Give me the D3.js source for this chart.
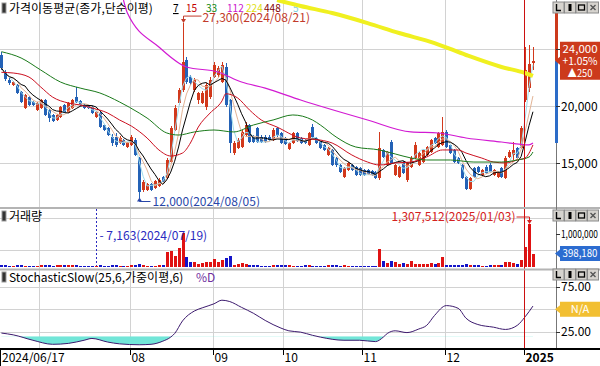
<!DOCTYPE html>
<meta charset="UTF-8">
<style>
body { margin: 0; background: #fff; }
svg text { font-family: "Noto Sans CJK KR", "DejaVu Sans", sans-serif; font-size: 12px; }
</style>
<body>
<script src="https://d3js.org/d3.v7.min.js"></script>
<script>
// daily candles, 2024/06/17 .. 2025/01/06 (index based)
var opens = [24500,23010,22310,21870,21870,21250,19850,20820,20380,19680,
  19850,20550,19680,19240,18800,19060,20110,19500,19850,20820,
  20470,20110,20030,19940,19060,19410,18360,18100,17310,17310,
  16780,17040,16430,16610,17040,15470,12660,12660,13180,12830,
  13010,13800,13710,15110,17920,20290,21430,24060,22570,21430,
  20550,20290,19940,20820,22570,22750,22130,23450,20550,15900,
  16340,16430,17480,18360,17310,18100,17310,17310,17310,17040,
  18100,17660,17220,16250,16780,17660,17220,17040,16610,18180,
  17220,16870,16610,15730,16170,15470,14850,13800,14410,14850,
  14680,14590,14410,14410,14320,14240,13710,16170,14850,16870,
  13970,13800,15110,13540,14680,15470,14850,15110,15730,15990,
  17220,16430,16610,17750,16610,16170,15470,14850,13800,12750,
  14590,14680,13970,14680,14850,13970,13800,14590,13710,15550,
  15730,16340,16340,20550,21610,23800];
var highs = [24760,23180,22480,22220,21960,21340,21080,20900,20470,20380,
  20640,20640,19760,19320,19320,20030,20200,20380,20640,21690,
  20550,20200,20110,20030,19590,19500,18450,18180,17570,17660,
  17400,17130,16870,17480,17220,15550,13540,13270,13270,13540,
  13710,13890,15470,18270,20110,21610,27300,24320,22750,22480,
  21250,21340,22040,22570,23890,23530,23890,23800,20640,16960,
  17220,17920,18620,18450,17480,18180,17480,17480,17480,18100,
  18180,17750,17310,16870,17750,17750,17310,17130,17750,18450,
  17310,16960,16690,16430,16250,15550,14940,14680,15110,14940,
  14760,14680,14500,14500,14410,14320,17750,16250,16080,17040,
  14940,14760,15200,15110,15640,16870,15990,16250,16520,17130,
  17310,17750,19060,17920,16690,16250,15550,14940,13890,13800,
  14680,14760,14500,14850,15030,14500,14320,14680,15640,16170,
  16870,16430,18270,25200,25380,25200];
var lows = [23180,22220,21870,21780,21080,20290,19760,20030,20030,19590,
  19760,19150,18620,18620,18710,18970,19410,19410,19760,20290,
  20030,19760,19760,19320,18970,18100,17830,17400,16520,16430,
  16690,16520,16340,16520,15640,12000,12480,12570,12570,12750,
  12920,13270,13620,15030,17830,20110,21250,21960,21870,21250,
  20200,20200,19680,20640,22480,22570,22040,19940,15900,15730,
  16250,16340,17310,16780,16780,16780,16780,16780,16960,16960,
  17310,16690,16610,16170,16690,16870,16690,16690,16520,17220,
  16690,16250,16080,15640,14760,14680,14150,13710,14320,14320,
  13890,13890,13890,13970,13890,13620,13540,15470,14760,14940,
  13890,13710,14060,13360,14590,15380,14760,15030,15640,15900,
  16690,16340,16520,16340,15820,15030,14940,13620,12660,12660,
  13710,14150,13890,14060,14150,13890,13710,13710,13620,15470,
  15290,15380,16250,20380,21250,23180];
var closes = [23360,22400,22040,22130,21170,20380,20990,20110,20110,20290,
  20550,19240,18970,18710,19240,19940,19500,20290,20550,20380,
  20110,19850,19850,19410,19500,18180,17920,17480,16780,16610,
  17220,16610,16780,17310,15730,12480,13360,13180,12660,13450,
  13540,13360,15290,18100,19850,21430,23890,22130,22040,22310,
  21170,21170,21870,22310,23620,23360,23620,20110,16780,16780,
  17040,17750,18360,16870,16870,16870,16870,16870,17040,17920,
  17480,16780,16690,16780,17660,16960,16780,16780,17660,17310,
  16780,16340,16170,16340,14850,14850,14240,14590,15030,14410,
  13970,13970,13970,14060,13970,13710,16340,15550,15990,15030,
  14850,14680,14150,15030,15470,16610,15900,16170,16430,17040,
  16780,17660,17750,16430,15900,15110,15030,13710,12750,13710,
  13800,14240,14410,14150,14240,14410,14240,13800,15470,15990,
  16170,15470,18100,23180,23750,24000];
var volumes = [45000,38000,30000,28000,32000,35000,30000,28000,25000,30000,
  40000,60000,35000,30000,45000,60000,40000,35000,38000,50000,
  30000,25000,20000,22000,7163,35000,30000,28000,40000,35000,
  30000,25000,22000,35000,40000,70000,45000,30000,28000,30000,
  40000,35000,455000,486000,320000,560000,1020000,300000,150000,150000,
  80000,100000,150000,150000,220000,150000,200000,250000,330000,50000,
  80000,100000,80000,50000,40000,35000,30000,30000,25000,50000,
  45000,40000,35000,40000,30000,25000,25000,45000,50000,30000,
  30000,28000,25000,35000,40000,35000,30000,40000,30000,25000,
  25000,22000,20000,20000,22000,30000,530000,160000,100000,160000,
  130000,80000,100000,80000,180000,90000,80000,70000,90000,100000,
  80000,100000,280000,50000,45000,40000,35000,60000,70000,50000,
  40000,35000,30000,30000,35000,40000,40000,35000,150000,130000,
  110000,80000,200000,610000,1307512,398180];

// moving averages: [day index, price]
var ma15Pts = [[0,22980],[3,22920],[7,22570],[10,21690],[13,20810],[17,20290],[20,20110],[23,19850],
  [27,19410],[30,18800],[33,18270],[37,17220],[40,16170],[43,15640],[46,15900],[48,16780],[50,18180],
  [53,19410],[56,20460],[57,21100],[60,20730],[63,19680],[66,18800],[70,18180],[76,17220],[81,17040],
  [84,16780],[89,15730],[93,15110],[96,14850],[100,15030],[104,15110],[108,15550],[112,16170],
  [116,16170],[118,15900],[122,15460],[125,15110],[128,15030],[131,15290],[133,15460],[135,16610]];
var ma33Pts = [[0,24790],[5,24240],[10,23180],[15,22130],[20,21600],[25,21170],[30,20380],[35,19410],
  [37,18970],[42,17660],[45,17480],[49,17750],[54,17920],[59,17750],[64,18360],[69,18800],[74,19240],
  [79,18800],[81,18360],[85,17310],[90,16430],[96,16170],[100,15820],[104,15470],[108,15290],
  [114,15290],[120,15110],[127,15110],[131,15290],[134,15550],[135,15990]];
var ma112Pts = [[31,29320],[32,28180],[40,25200],[47,23450],[55,23010],[61,22130],[67,21600],[76,20550],
  [93,18800],[104,17750],[111,17660],[118,17220],[127,16870],[134,16610],[135,16780]];
var ma224Pts = [[70,29320],[76,28800],[84,28180],[93,27300],[101,26430],[110,25550],[118,24500],
  [127,23450],[133,22920],[135,22660]];

// StochasticSlow %D: [day index, value]
var stochPts = [[0,23.5],[3,21.5],[8,15.5],[13,11],[17,12],[21,15.5],[23,17.5],[27,13.5],[30,11.5],
  [35,10.5],[38,11],[41,14.5],[43,19],[44,23],[46,37],[49,48],[51,51.5],[54,56],[56,60],[58,58.5],
  [61,52],[64,45.5],[67,37.5],[71,29],[73,26],[76,24.5],[79,21],[81,19],[87,15.5],[91,15.5],[95,14],
  [97,19],[98,23],[100,26],[103,24],[106,28],[108,32],[110,43],[113,54],[116,51],[118,40],[121,33],
  [125,30],[128,27.5],[131,32],[133,41.5],[135,53.5]];

var gridIdx = [10, 33, 54, 72, 92, 113, 133];
var tickIdx = [0, 33, 54, 72, 92, 113, 133];
var tickLabels = ["2024/06/17", "08", "09", "10", "11", "12", "2025"];
var yearIdx = 133;
var maPeriods = ["7", "15", "33", "112", "224", "448", "5"];
var maColors = ["#000", "#c40000", "#138a13", "#cc16cc", "#e0e010", "#800000", "#7fd0e0"];
var hiDate = "2024/08/21", loDate = "2024/08/05", vHiDate = "2025/01/03", vLoDate = "2024/07/19";
var changePct = "+1.05%", changeAmt = 250;
var axisBarHi = 28200, axisBarLo = 16780;

var N = closes.length;
var W = 600, H = 366, plotR = 556;
var UP = "#d2391c", DOWN = "#2462b6";

var svg = d3.select("body").append("svg").attr("width", W).attr("height", H);
var defs = svg.append("defs");
defs.append("clipPath").attr("id", "cMain").append("rect").attr("x", 0).attr("y", 0).attr("width", plotR).attr("height", 207);

var x = d3.scaleLinear().domain([0, N - 1]).range([1.4, 1.4 + (N - 1) * 3.9375]);
var yP = d3.scaleLinear().domain([15000, 25000]).range([163.3, 49.3]);
var yV = d3.scaleLinear().domain([0, 1000000]).range([266.5, 234]);
var yS = d3.scaleLinear().domain([25, 75]).range([331.7, 286.7]);
var fmt = d3.format(",");

function sma(n) {
  return closes.map(function(c, i) { return [i, d3.mean(closes.slice(Math.max(0, i - n + 1), i + 1))]; });
}

// ---- grid
var grid = svg.append("g").attr("stroke", "#d2d2d2").attr("shape-rendering", "crispEdges");
gridIdx.forEach(function(i) {
  var gx = Math.round(x(i) - 1.5) + 0.5;
  grid.append("line").attr("x1", gx).attr("x2", gx).attr("y1", 0).attr("y2", 349);
});
[15000, 20000, 25000].forEach(function(v) {
  grid.append("line").attr("x1", 0).attr("x2", plotR).attr("y1", Math.round(yP(v)) + 0.5).attr("y2", Math.round(yP(v)) + 0.5);
});
[500000, 1500000].forEach(function(v) {
  grid.append("line").attr("x1", 0).attr("x2", plotR).attr("y1", Math.round(yV(v)) + 0.5).attr("y2", Math.round(yV(v)) + 0.5);
});
[25, 50, 75].forEach(function(v) {
  grid.append("line").attr("x1", 0).attr("x2", plotR).attr("y1", Math.round(yS(v)) + 0.5).attr("y2", Math.round(yS(v)) + 0.5);
});

// ---- main legend
svg.append("rect").attr("x", 2).attr("y", 3).attr("width", 4).attr("height", 10).attr("fill", "#333").attr("stroke", "#999");
svg.append("text").attr("x", 9).attr("y", 13).text("가격이동평균(종가,단순이평)");
var legX = [173, 186, 206, 227, 246, 264, 293];
maPeriods.forEach(function(p, k) {
  svg.append("text").attr("x", legX[k]).attr("y", 12).attr("fill", maColors[k]).style("font-size", "11px")
    .attr("textLength", p.length * 5.6).attr("lengthAdjust", "spacingAndGlyphs")
    .attr("text-decoration", k === 0 ? "underline" : null).text(p);
});

// ---- candles
var gm = svg.append("g").attr("clip-path", "url(#cMain)");
var cand = gm.selectAll("g.c").data(d3.range(N)).join("g").attr("shape-rendering", "crispEdges");
cand.append("line")
  .attr("x1", function(i) { return Math.round(x(i)) + 0.5; })
  .attr("x2", function(i) { return Math.round(x(i)) + 0.5; })
  .attr("y1", function(i) { return yP(highs[i]); })
  .attr("y2", function(i) { return yP(lows[i]); })
  .attr("stroke", function(i) { return closes[i] >= opens[i] ? UP : DOWN; });
cand.append("rect")
  .attr("x", function(i) { return Math.round(x(i)) - 1; })
  .attr("width", 3)
  .attr("y", function(i) { return yP(Math.max(opens[i], closes[i])); })
  .attr("height", function(i) { return Math.max(1, Math.abs(yP(opens[i]) - yP(closes[i]))); })
  .attr("fill", function(i) { return closes[i] >= opens[i] ? UP : DOWN; });

// ---- moving averages
var lineP = d3.line().x(function(d) { return x(d[0]); }).y(function(d) { return yP(d[1]); });
var lineC = d3.line().x(function(d) { return x(d[0]); }).y(function(d) { return yP(d[1]); }).curve(d3.curveMonotoneX);
gm.append("path").attr("d", lineP(sma(3))).attr("fill", "none").attr("stroke", "#9fdcec").attr("stroke-width", 1);
gm.append("path").attr("d", lineP(sma(5))).attr("fill", "none").attr("stroke", "#e2b496").attr("stroke-width", 1);
gm.append("path").attr("d", lineP(sma(7))).attr("fill", "none").attr("stroke", "#000").attr("stroke-width", 1);
gm.append("path").attr("d", lineC(ma15Pts)).attr("fill", "none").attr("stroke", "#cc1020").attr("stroke-width", 1);
gm.append("path").attr("d", lineC(ma33Pts)).attr("fill", "none").attr("stroke", "#1a7a1a").attr("stroke-width", 1);
gm.append("path").attr("d", lineC(ma112Pts)).attr("fill", "none").attr("stroke", "#d21ad2").attr("stroke-width", 1.2);
gm.append("path").attr("d", lineC(ma224Pts)).attr("fill", "none").attr("stroke", "#f0f020").attr("stroke-width", 4);

// ---- high / low markers
var hiI = d3.maxIndex(highs), loI = d3.minIndex(lows);
var hx = Math.round(x(hiI)) + 0.5, hy = yP(highs[hiI]);
svg.append("path").attr("d", "M" + hx + "," + (hy - 2) + "V" + (hy - 7) + "H" + (hx + 18)).attr("fill", "none").attr("stroke", "#c23b2b");
svg.append("path").attr("d", "M" + (hx - 2.5) + "," + (hy - 4) + "L" + (hx + 2.5) + "," + (hy - 4) + "L" + hx + "," + hy + "Z").attr("fill", "#c23b2b");
svg.append("text").attr("x", hx + 19).attr("y", hy - 1).attr("fill", "#c23b2b").text(fmt(highs[hiI]) + "(" + hiDate + ")");
var lx = Math.round(x(loI)) + 0.5, ly = yP(lows[loI]);
svg.append("path").attr("d", "M" + lx + "," + (ly + 2) + "V" + (ly + 4) + "H" + (lx + 11)).attr("fill", "none").attr("stroke", "#2846a8");
svg.append("path").attr("d", "M" + (lx - 2.5) + "," + (ly + 4) + "L" + (lx + 2.5) + "," + (ly + 4) + "L" + lx + "," + ly + "Z").attr("fill", "#2846a8");
svg.append("text").attr("x", lx + 13).attr("y", ly + 8).attr("fill", "#2846a8").text(fmt(lows[loI]) + "(" + loDate + ")");

// ---- volume
svg.append("rect").attr("x", 2).attr("y", 211).attr("width", 4).attr("height", 10).attr("fill", "#333").attr("stroke", "#999");
svg.append("text").attr("x", 9).attr("y", 221).text("거래량");
var gv = svg.append("g").attr("shape-rendering", "crispEdges");
gv.selectAll("rect").data(d3.range(N)).join("rect")
  .attr("x", function(i) { return Math.round(x(i)) - 1; })
  .attr("width", 3)
  .attr("y", function(i) { return yV(volumes[i]); })
  .attr("height", function(i) { return Math.max(1, yV(0) - yV(volumes[i])); })
  .attr("fill", function(i) { return closes[i] >= opens[i] ? "#e01212" : "#1414c8"; });
var vHi = d3.maxIndex(volumes), vLo = d3.minIndex(volumes);
var vhx = Math.round(x(vHi)) + 0.5, vhy = yV(volumes[vHi]);
svg.append("path").attr("d", "M" + (vhx - 13) + "," + (vhy - 7) + "H" + vhx + "V" + (vhy - 2)).attr("fill", "none").attr("stroke", "#d42020");
svg.append("path").attr("d", "M" + (vhx - 2.5) + "," + (vhy - 4) + "L" + (vhx + 2.5) + "," + (vhy - 4) + "L" + vhx + "," + vhy + "Z").attr("fill", "#d42020");
svg.append("text").attr("x", vhx - 14).attr("y", vhy - 3).attr("text-anchor", "end").attr("fill", "#d42020").text(fmt(volumes[vHi]) + "(" + vHiDate + ")");
var vlx = Math.round(x(vLo)) + 0.5;
svg.append("line").attr("x1", vlx).attr("x2", vlx).attr("y1", 209).attr("y2", 266).attr("stroke", "#2a2ac0").attr("stroke-dasharray", "2,2");
svg.append("text").attr("x", vlx + 3).attr("y", 240).attr("fill", "#2a2ac0").text("- " + fmt(volumes[vLo]) + "(" + vLoDate + ")");

// ---- stochastic
svg.append("rect").attr("x", 2).attr("y", 272).attr("width", 4).attr("height", 10).attr("fill", "#333").attr("stroke", "#999");
svg.append("text").attr("x", 9).attr("y", 282).text("StochasticSlow(25,6,가중이평,6)");
svg.append("text").attr("x", 196).attr("y", 282).attr("fill", "#7030a0").text("%D");
defs.append("clipPath").attr("id", "cOver").append("rect").attr("x", 0).attr("y", yS(20)).attr("width", plotR).attr("height", 349 - yS(20));
var areaS = d3.area().x(function(d) { return x(d[0]); }).y0(yS(20)).y1(function(d) { return yS(d[1]); }).curve(d3.curveMonotoneX);
svg.append("path").attr("d", areaS(stochPts)).attr("fill", "#72e6d8").attr("clip-path", "url(#cOver)");
var lineS = d3.line().x(function(d) { return x(d[0]); }).y(function(d) { return yS(d[1]); }).curve(d3.curveMonotoneX);
svg.append("path").attr("d", lineS(stochPts)).attr("fill", "none").attr("stroke", "#3c1a6e").attr("stroke-width", 1);

// ---- year separator
var yx = Math.round(x(yearIdx) - 1.5) + 0.5;
svg.append("line").attr("x1", yx).attr("x2", yx).attr("y1", 0).attr("y2", 352).attr("stroke", "#cc1010");

// ---- panel separators
svg.append("rect").attr("x", 0).attr("y", 207).attr("width", W).attr("height", 2).attr("fill", "#b4b4b4");
svg.append("rect").attr("x", 0).attr("y", 268.5).attr("width", W).attr("height", 2).attr("fill", "#b4b4b4");

// ---- right axis
svg.append("line").attr("x1", plotR + 0.5).attr("x2", plotR + 0.5).attr("y1", 0).attr("y2", 349).attr("stroke", "#777");
var last = closes[N - 1];
svg.append("rect").attr("x", 555).attr("width", 3).attr("y", yP(axisBarHi)).attr("height", yP(last) - yP(axisBarHi)).attr("fill", "#cc3a1c");
svg.append("rect").attr("x", 555).attr("width", 3).attr("y", yP(last)).attr("height", yP(axisBarLo) - yP(last)).attr("fill", "#2c6cc8");
function rTick(y, label, len) {
  svg.append("line").attr("x1", 556).attr("x2", 560).attr("y1", Math.round(y) + 0.5).attr("y2", Math.round(y) + 0.5).attr("stroke", "#333");
  var t = svg.append("text").attr("x", 561).attr("y", y).attr("dy", "0.36em").text(label);
  if (len) t.attr("textLength", len).attr("lengthAdjust", "spacingAndGlyphs").style("font-size", "11px");
}
[25000, 20000, 15000].forEach(function(v) { rTick(yP(v), fmt(v)); });
rTick(yV(1000000), fmt(1000000), 37);
rTick(yS(75), "75.00");
rTick(yS(25), "25.00");

function tag(y, h, color, lines) {
  var t = y - h / 2, b = y + h / 2;
  svg.append("path").attr("d", "M555," + y + "L560," + (y - 4) + "L560," + t + "L600," + t + "L600," + b + "L560," + b + "L560," + (y + 4) + "Z").attr("fill", color);
  lines.forEach(function(s, k) {
    svg.append("text").attr("x", 580).attr("y", t + 11 + k * 12).attr("text-anchor", "middle").attr("fill", "#fff")
      .style("font-size", "11px")
      .attr("textLength", Math.min(35, s.length * 6.2)).attr("lengthAdjust", "spacingAndGlyphs").text(s);
  });
}
tag(yP(last), 38, "#cc3a1c", [fmt(last), changePct, "▲" + changeAmt]);
tag(yV(volumes[N - 1]), 15, "#2c6cd0", [fmt(volumes[N - 1])]);
tag(yS(50), 15, "#f2bf32", ["N/A"]);

// ---- panel buttons
function buttons(y0) {
  ["L", "I", "O", "X"].forEach(function(g, k) {
    var bx = 553 + k * 11.5;
    svg.append("rect").attr("x", bx).attr("y", y0).attr("width", 11).attr("height", 11).attr("fill", "#d6d3ce").attr("stroke", "#8a8a8a");
    if (g === "L") svg.append("path").attr("d", "M" + (bx + 3.5) + "," + (y0 + 2) + "V" + (y0 + 8.5) + "H" + (bx + 8)).attr("fill", "none").attr("stroke", "#000").attr("stroke-width", 1.4);
    if (g === "I") svg.append("rect").attr("x", bx + 4).attr("y", y0 + 2).attr("width", 3).attr("height", 7).attr("fill", "#000");
    if (g === "O") svg.append("rect").attr("x", bx + 2.5).attr("y", y0 + 3).attr("width", 6).attr("height", 5).attr("fill", "none").attr("stroke", "#000").attr("stroke-width", 1.3);
    if (g === "X") svg.append("path").attr("d", "M" + (bx + 3) + "," + (y0 + 3) + "L" + (bx + 8) + "," + (y0 + 8) + "M" + (bx + 8) + "," + (y0 + 3) + "L" + (bx + 3) + "," + (y0 + 8)).attr("stroke", "#555").attr("stroke-width", 1.4);
  });
}
buttons(2);
buttons(210);
buttons(269);

// ---- bottom axis
svg.append("rect").attr("x", 0).attr("y", 348).attr("width", W).attr("height", 2).attr("fill", "#000");
svg.append("line").attr("x1", 0.5).attr("x2", 0.5).attr("y1", 348).attr("y2", 366).attr("stroke", "#000");
tickIdx.forEach(function(i, k) {
  var tx = k === 0 ? 1 : Math.round(x(i) - 1.5) + 0.5;
  if (k > 0) svg.append("line").attr("x1", tx).attr("x2", tx).attr("y1", 349).attr("y2", 355).attr("stroke", "#000");
  svg.append("text").attr("x", tx + 1).attr("y", 362).attr("font-weight", k === tickIdx.length - 1 ? "bold" : null).text(tickLabels[k]);
});
</script>
</body>
